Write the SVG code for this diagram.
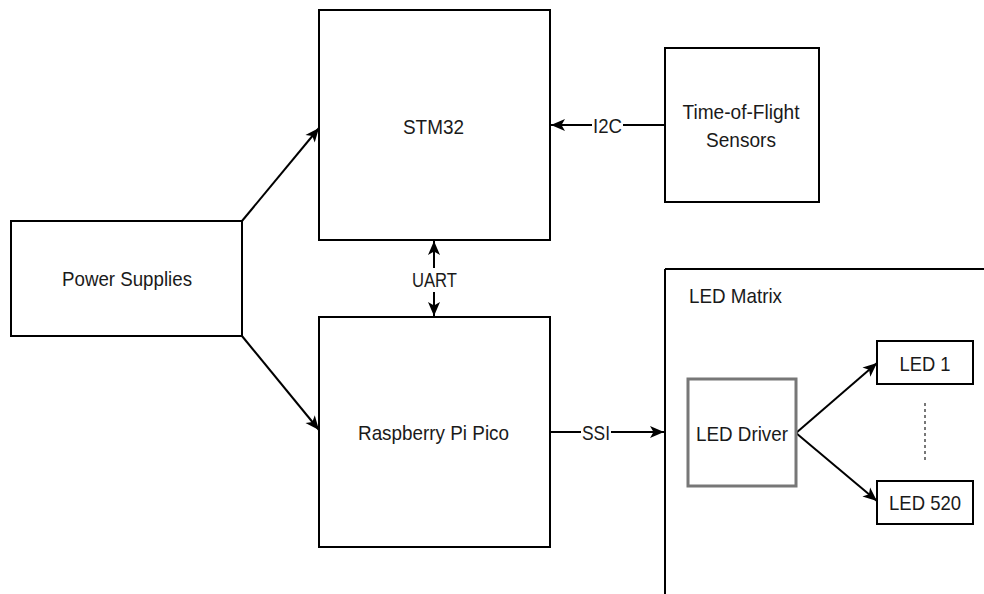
<svg xmlns="http://www.w3.org/2000/svg" width="984" height="594" viewBox="0 0 984 594">
<style>
  .box{fill:#fff;stroke:#000;stroke-width:2}
  .gbox{fill:#fff;stroke:#777;stroke-width:3}
  .t{font-family:"Liberation Sans",Arial,Helvetica,sans-serif;font-size:21px;fill:#1a1a1a;text-anchor:middle}
  .tl{text-anchor:start}
  .edge{fill:none;stroke:#000;stroke-width:2}
  .lbl{fill:#fff;stroke:none}
  .dots{fill:none;stroke:#777;stroke-width:2;stroke-dasharray:3 3}
</style>
<defs>
  <marker id="arr" markerUnits="userSpaceOnUse" markerWidth="16" markerHeight="14" viewBox="0 0 16 14" refX="15" refY="7" orient="auto-start-reverse">
    <path d="M1,1 L15,7 L1,13 L4.5,7 Z" fill="#000"/>
  </marker>
</defs>
<rect width="984" height="594" fill="#fff"/>

<g id="led-matrix">
  <path class="box" d="M665,269 H990 M665,269 V600" />
  <text class="t tl" x="689" y="303" textLength="93" lengthAdjust="spacingAndGlyphs">LED Matrix</text>
</g>

<g id="connectors">
  <line class="edge" x1="242" y1="221" x2="319" y2="128" marker-end="url(#arr)"/>
  <line class="edge" x1="242" y1="336" x2="319" y2="430" marker-end="url(#arr)"/>
  <line class="edge" x1="434" y1="241" x2="434" y2="316" marker-start="url(#arr)" marker-end="url(#arr)"/>
  <rect class="lbl" x="410" y="268" width="49" height="24"/>
  <text class="t" x="434.5" y="287" textLength="45" lengthAdjust="spacingAndGlyphs">UART</text>
  <line class="edge" x1="665" y1="125" x2="551" y2="125" marker-end="url(#arr)"/>
  <rect class="lbl" x="592" y="113" width="31" height="24"/>
  <text class="t" x="607.5" y="132.5" textLength="29" lengthAdjust="spacingAndGlyphs">I2C</text>
  <line class="edge" x1="550" y1="432" x2="664" y2="432" marker-end="url(#arr)"/>
  <rect class="lbl" x="581" y="420" width="30" height="24"/>
  <text class="t" x="596" y="440" textLength="28" lengthAdjust="spacingAndGlyphs">SSI</text>
  <line class="edge" x1="796" y1="433" x2="877" y2="363" marker-end="url(#arr)"/>
  <line class="edge" x1="796" y1="433" x2="877" y2="501" marker-end="url(#arr)"/>
  <line class="dots" x1="925" y1="403" x2="925" y2="462"/>
</g>

<g id="power-supplies">
  <rect class="box" x="11" y="221" width="231" height="115"/>
  <text class="t" x="127" y="286" textLength="130" lengthAdjust="spacingAndGlyphs">Power Supplies</text>
</g>

<g id="stm32">
  <rect class="box" x="319" y="10" width="231" height="230"/>
  <text class="t" x="433.5" y="134" textLength="61" lengthAdjust="spacingAndGlyphs">STM32</text>
</g>

<g id="raspberry-pi-pico">
  <rect class="box" x="319" y="317" width="231" height="230"/>
  <text class="t" x="433.5" y="440" textLength="151" lengthAdjust="spacingAndGlyphs">Raspberry Pi Pico</text>
</g>

<g id="tof-sensors">
  <rect class="box" x="665" y="48" width="154" height="154"/>
  <text class="t" x="741" y="118.5" textLength="117" lengthAdjust="spacingAndGlyphs">Time-of-Flight</text>
  <text class="t" x="741" y="146.5" textLength="70" lengthAdjust="spacingAndGlyphs">Sensors</text>
</g>

<g id="led-driver">
  <rect class="gbox" x="688" y="379" width="108" height="107"/>
  <text class="t" x="742" y="440.5" textLength="92" lengthAdjust="spacingAndGlyphs">LED Driver</text>
</g>

<g id="led-1">
  <rect class="box" x="877" y="341" width="96" height="43"/>
  <text class="t" x="925" y="370.5" textLength="51" lengthAdjust="spacingAndGlyphs">LED 1</text>
</g>

<g id="led-520">
  <rect class="box" x="877" y="481" width="96" height="43"/>
  <text class="t" x="925" y="510" textLength="72" lengthAdjust="spacingAndGlyphs">LED 520</text>
</g>
</svg>
